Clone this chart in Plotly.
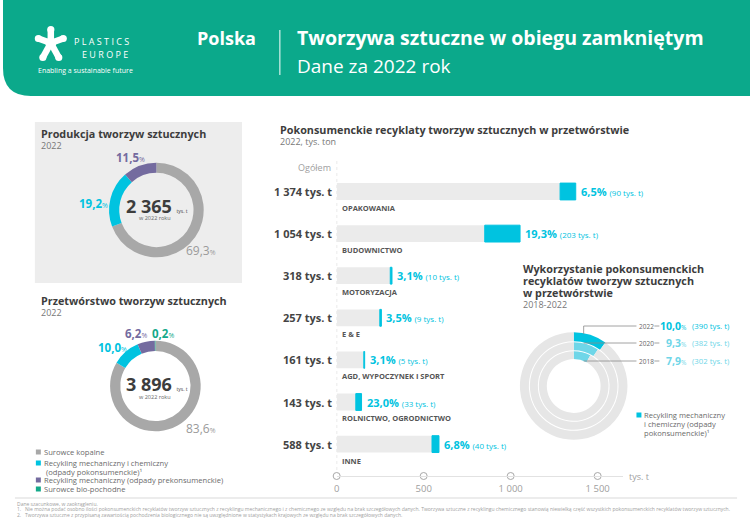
import plotly.graph_objects as go

W, H = 750, 530
FONT = "Open Sans"

# ---------------- data ----------------
prod_values = [69.3, 19.2, 11.5]          # Surowce kopalne, recykling pokons., recykling prekons.
prod_labels_txt = ["69,3", "19,2", "11,5"]
prod_total = "2 365"
conv_values = [83.6, 10.0, 6.2, 0.2]      # + surowce bio-pochodne
conv_labels_txt = ["83,6", "10,0", "6,2", "0,2"]
conv_total = "3 896"
legend_items = [["Surowce kopalne"],
                ["Recykling mechaniczny i chemiczny", "(odpady pokonsumenckie)¹"],
                ["Recykling mechaniczny (odpady prekonsumenckie)"],
                ["Surowce bio-pochodne"]]

sectors = ["OPAKOWANIA", "BUDOWNICTWO", "MOTORYZACJA", "E & E",
           "AGD, WYPOCZYNEK I SPORT", "ROLNICTWO, OGRODNICTWO", "INNE"]
sector_totals = [1374, 1054, 318, 257, 161, 143, 588]
sector_recycled = [90, 203, 10, 9, 5, 33, 40]
sector_share = ["6,5", "19,3", "3,1", "3,5", "3,1", "23,0", "6,8"]
x_ticks = [0, 500, 1000, 1500]
x_tick_text = ["0", "500", "1 000", "1 500"]

ring_years = ["2022", "2020", "2018"]
ring_shares = [10.0, 9.3, 7.9]
ring_share_txt = ["10,0", "9,3", "7,9"]
ring_tonnes = [390, 382, 302]

# ---------------- styles ----------------
TEAL = "#0ba98b"
GRAY = "#a8a8a8"
CYAN = "#00c3e0"
CYAN_L = "#6fd6e8"
PURPLE = "#746b9f"
GREEN = "#14a98a"
DARK = "#3d3d3d"
MID = "#777777"


def X(p):
    return p / W


def Y(p):
    return 1 - p / H


annotations = []
shapes = []


def ann(text, x, y, size, color=DARK, anchor="left", yanchor="middle", **kw):
    d = dict(text=text, x=X(x), y=Y(y), xref="paper", yref="paper", showarrow=False,
             xanchor=anchor, yanchor=yanchor, font=dict(family=FONT, size=size, color=color),
             align="left")
    d.update(kw)
    annotations.append(d)


fig = go.Figure()

# ---------------- header ----------------
shapes.append(dict(type="path", xref="paper", yref="paper", line=dict(width=0), fillcolor=TEAL,
                   path=f"M {X(0)},{Y(0)} L {X(750)},{Y(0)} L {X(750)},{Y(96)} L {X(28)},{Y(96)} "
                        f"Q {X(0)},{Y(96)} {X(0)},{Y(68)} Z"))
# logo asterisk
cx, cy = 48, 43
for ex, ey in [(48, 29.5), (35.5, 38.5), (60.5, 38.5), (40, 57.5), (56, 57.5)]:
    shapes.append(dict(type="line", xref="paper", yref="paper", x0=X(cx), y0=Y(cy), x1=X(ex), y1=Y(ey),
                       line=dict(color="white", width=6.5)))
    shapes.append(dict(type="circle", xref="paper", yref="paper", x0=X(ex - 3.6), x1=X(ex + 3.6),
                       y0=Y(ey + 3.6), y1=Y(ey - 3.6), fillcolor="white", line=dict(width=0)))
shapes.append(dict(type="circle", xref="paper", yref="paper", x0=X(cx - 5.5), x1=X(cx + 5.5),
                   y0=Y(cy + 5.5), y1=Y(cy - 5.5), fillcolor="white", line=dict(width=0)))
ann("P L A S T I C S", 69, 42, 9, "white")
ann("E U R O P E", 77, 55, 9, "white")
ann("Enabling a sustainable future", 33, 71, 7, "white")
ann("<b>Polska</b>", 193, 38, 18, "white")
shapes.append(dict(type="line", xref="paper", yref="paper", x0=X(278), x1=X(278), y0=Y(30), y1=Y(75),
                   line=dict(color="white", width=1)))
ann("<b>Tworzywa sztuczne w obiegu zamkniętym</b>", 293, 38, 19.5, "white")
ann("Dane za 2022 rok", 293, 66, 19, "white")

# ---------------- panel 1: production ----------------
shapes.append(dict(type="rect", xref="paper", yref="paper", x0=X(32), x1=X(240), y0=Y(283), y1=Y(122),
                   fillcolor="#ededed", line=dict(width=0), layer="below"))
ann("<b>Produkcja tworzyw sztucznych</b>", 36, 133, 10.8, DARK)
ann("2022", 36, 146, 9, MID)


def donut(values, colors, cx, cy, r, hole):
    return go.Pie(values=values, marker=dict(colors=colors, line=dict(width=0)), hole=hole, sort=False,
                  direction="clockwise", rotation=0, textinfo="none", hoverinfo="skip", showlegend=False,
                  domain=dict(x=[X(cx - r), X(cx + r)], y=[Y(cy + r), Y(cy - r)]))


fig.add_trace(donut(prod_values, [GRAY, CYAN, PURPLE], 154, 210, 47.5, 0.785))


def pct(txt, bold=True, psize=7):
    t = f"<b>{txt}</b>" if bold else txt
    return t + f"<span style='font-size:{psize}px'>%</span>"


ann(pct(prod_labels_txt[2]), 128, 158, 11.5, PURPLE, anchor="center")
ann(pct(prod_labels_txt[1]), 91, 203, 11.5, CYAN, anchor="center")
ann(pct(prod_labels_txt[0], bold=False), 199, 250, 12, "#9a9a9a", anchor="center")
ann(f"<b>{prod_total}</b> <span style='font-size:5px'>tys. t</span>", 155, 206, 18, DARK, anchor="center")
ann("w 2022 roku", 153, 218.5, 5.5, "#666", anchor="center")

# ---------------- panel 2: conversion ----------------
ann("<b>Przetwórstwo tworzyw sztucznych</b>", 36, 300, 10.8, DARK)
ann("2022", 36, 312, 9, MID)
fig.add_trace(donut(conv_values, [GRAY, CYAN, PURPLE, GREEN], 153, 386, 45.5, 0.775))
ann(pct(conv_labels_txt[1]), 110, 347, 11.5, CYAN, anchor="center")
ann(pct(conv_labels_txt[2]), 134, 333, 11.5, PURPLE, anchor="center")
ann(pct(conv_labels_txt[3]), 161, 333, 11.5, GREEN, anchor="center")
ann(pct(conv_labels_txt[0], bold=False), 199, 428, 12, "#9a9a9a", anchor="center")
ann(f"<b>{conv_total}</b> <span style='font-size:5px'>tys. t</span>", 155, 384, 18, DARK, anchor="center")
ann("w 2022 roku", 153, 396.5, 5.5, "#666", anchor="center")

# legend
leg_y = [452, 463, 480, 489]
leg_col = [GRAY, CYAN, PURPLE, GREEN]
for lines, yy, col in zip(legend_items, leg_y, leg_col):
    shapes.append(dict(type="rect", xref="paper", yref="paper", x0=X(33), x1=X(38), y0=Y(yy + 2.5),
                       y1=Y(yy - 2.5), fillcolor=col, line=dict(width=0)))
    for k, ln in enumerate(lines):
        ann(ln, 39.5 if k == 0 else 41, yy + 8.5 * k, 7.6, "#6a6a6a")

# ---------------- bar chart ----------------
ann("<b>Pokonsumenckie recyklaty tworzyw sztucznych w przetwórstwie</b>", 276, 130, 10.8, DARK)
ann("2022, tys. ton", 276, 141, 9, MID)
ann("Ogółem", 331, 167, 9, "#a0a0a0", anchor="right")

idx = list(range(len(sectors)))
Y_BOT = (476 - 191.5) / 42.1
Y_TOP = (170 - 191.5) / 42.1
rest = [t - r for t, r in zip(sector_totals, sector_recycled)]
fig.add_trace(go.Bar(y=idx, x=rest, orientation="h", marker=dict(color="#ebebeb", line=dict(width=0)),
                     width=0.4, hoverinfo="skip", showlegend=False, xaxis="x", yaxis="y"))
fig.add_trace(go.Bar(y=idx, x=sector_recycled, base=rest, orientation="h",
                     marker=dict(color=CYAN, line=dict(color=CYAN, width=1)),
                     width=0.4, hoverinfo="skip", showlegend=False, xaxis="x", yaxis="y"))
fig.add_trace(go.Scatter(x=x_ticks, y=[Y_BOT] * len(x_ticks), mode="markers", cliponaxis=False,
                         marker=dict(symbol="circle", size=7, color="white", line=dict(color="#a8a8a8", width=1)),
                         hoverinfo="skip", showlegend=False))

for i, (s, t, r, sh) in enumerate(zip(sectors, sector_totals, sector_recycled, sector_share)):
    annotations.append(dict(text=f"<b>{t:,} tys. t</b>".replace(",", " "), x=0, y=i, xref="x", yref="y",
                            xanchor="right", yanchor="middle", xshift=-3, showarrow=False,
                            font=dict(family=FONT, size=11, color="#444")))
    annotations.append(dict(text=f"<b>{s}</b>", x=0, y=i + 0.39, xref="x", yref="y", xanchor="left",
                            yanchor="middle", xshift=3, showarrow=False,
                            font=dict(family=FONT, size=7.5, color="#555")))
    annotations.append(dict(text=f"<b>{sh}%</b> <span style='font-size:8px'>({r} tys. t)</span>",
                            x=t, y=i, xref="x", yref="y", xanchor="left", yanchor="middle", xshift=3,
                            showarrow=False, font=dict(family=FONT, size=11, color=CYAN)))

shapes.append(dict(type="line", xref="x", yref="paper", x0=0, x1=0, y0=Y(470), y1=Y(158),
                   line=dict(color="#d0d0d0", width=1, dash="dot"), layer="below"))
ann("tys. t", 627, 476, 9, "#a0a0a0")

# ---------------- rings ----------------
ann("<b>Wykorzystanie pokonsumenckich</b>", 520, 268, 10.8, DARK)
ann("<b>recyklatów tworzyw sztucznych</b>", 520, 280, 10.8, DARK)
ann("<b>w przetwórstwie</b>", 520, 292, 10.8, DARK)
ann("2018-2022", 520, 304, 9, MID)

ring_geo = [(54, 45), (44, 36), (35, 27)]
ring_cols = [CYAN, CYAN_L, CYAN_L]
for sh, (ro, ri), col in zip(ring_shares, ring_geo, ring_cols):
    fig.add_trace(donut([sh, 100 - sh], [col, "#e6e6e6"], 573, 386, ro, ri / ro))

label_y = [326, 343, 361]
for yr, st, tn, ly, col in zip(ring_years, ring_share_txt, ring_tonnes, label_y, [CYAN, CYAN_L, CYAN_L]):
    shapes.append(dict(type="line", xref="paper", yref="paper", x0=X(583), x1=X(636), y0=Y(ly), y1=Y(ly),
                       line=dict(color="#8a8a8a", width=0.8)))
    ann(yr, 637, ly, 6.5, "#666")
    shapes.append(dict(type="line", xref="paper", yref="paper", x0=X(654), x1=X(659), y0=Y(ly), y1=Y(ly),
                       line=dict(color="#8a8a8a", width=0.8)))
    ann(f"<b>{st}</b><span style='font-size:6.5px'>%</span>", 689, ly, 10.5, col, anchor="right")
    ann(f"({tn} tys. t)", 731, ly, 7.8, col, anchor="right")
shapes.append(dict(type="line", xref="paper", yref="paper", x0=X(583), x1=X(583), y0=Y(334), y1=Y(326),
                   line=dict(color="#8a8a8a", width=0.8)))

shapes.append(dict(type="rect", xref="paper", yref="paper", x0=X(636), x1=X(641), y0=Y(417.5),
                   y1=Y(412.5), fillcolor=CYAN, line=dict(width=0)))
for k, ln in enumerate(["Recykling mechaniczny", "i chemiczny (odpady", "pokonsumenckie)¹"]):
    ann(ln, 641.5, 415 + 9 * k, 7.6, "#6a6a6a")

# ---------------- footer ----------------
shapes.append(dict(type="line", xref="paper", yref="paper", x0=X(12), x1=X(737), y0=Y(498), y1=Y(498),
                   line=dict(color="#ececec", width=2)))
ann("Dane szacunkowe, w zaokrągleniu.", 12, 504, 5, "#a0a0a0")
ann("1.   Nie można podać osobno ilości pokonsumenckich recyklatów tworzyw sztucznych z recyklingu mechanicznego "
    "i z chemicznego ze względu na brak szczegółowych danych. Tworzywa sztuczne z recyklingu chemicznego stanowią "
    "niewielką część wszystkich pokonsumenckich recyklatów tworzyw sztucznych.", 12, 509.3, 5, "#a0a0a0")
ann("2.   Tworzywa sztuczne z przypisaną zawartością pochodzenia biologicznego nie są uwzględnione w statystykach "
    "krajowych ze względu na brak szczegółowych danych.", 12, 514.5, 5, "#a0a0a0")

fig.update_layout(
    width=W, height=H, margin=dict(l=0, r=0, t=0, b=0),
    paper_bgcolor="white", plot_bgcolor="rgba(0,0,0,0)",
    showlegend=False, barmode="overlay",
    font=dict(family=FONT),
    xaxis=dict(domain=[X(335), X(622)], range=[0, 287 / 0.1747], tickvals=x_ticks, ticktext=x_tick_text,
               ticks="", showgrid=False, zeroline=False, showline=True, linecolor="#e2e2e2", linewidth=1,
               tickfont=dict(family=FONT, size=9.5, color="#a0a0a0"), ticklabelstandoff=4, fixedrange=True),
    yaxis=dict(domain=[Y(476), Y(170)], range=[Y_BOT, Y_TOP], visible=False, fixedrange=True),
    shapes=shapes, annotations=annotations,
)

fig.write_html("out.html", config={"displayModeBar": False},
               post_script="document.body.style.margin='0';document.body.style.overflow='hidden';")
